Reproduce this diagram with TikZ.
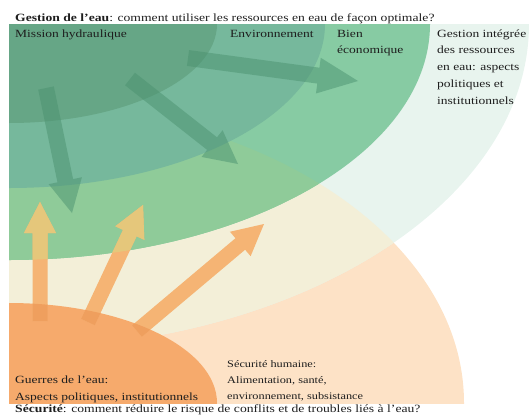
\documentclass[tikz,border=0pt]{standalone}
\usepackage{fontspec}
\setmainfont[FakeStretch=1.23]{Liberation Serif}
\usetikzlibrary{calc}

\definecolor{gA}{HTML}{66A686}
\definecolor{gB}{HTML}{76B89C}
\definecolor{gC}{HTML}{87CBA3}
\definecolor{gCp}{HTML}{8FCB99}
\definecolor{gD}{HTML}{E8F4EE}
\definecolor{cream}{HTML}{F3EFD8}
\definecolor{peach}{HTML}{FDE2C6}
\definecolor{orA}{HTML}{F6AA6C}
\definecolor{garrow}{HTML}{4B9270}
\definecolor{oarrow}{HTML}{F5B474}
\definecolor{oarrowG}{HTML}{E5C77B}
\definecolor{oarrowD}{HTML}{EF9F5E}
\definecolor{ink}{HTML}{1E1E1E}

% fat arrow: #1 fill options, #2 start, #3 end, #4 shaft half width, #5 head half width, #6 head length
\newcommand{\fatarrow}[6]{%
  \coordinate (hb) at ($(#3)!#6!(#2)$);
  \fill[#1] ($(#2)!#4!90:(#3)$) -- ($(hb)!#4!-90:(#2)$) -- ($(hb)!#5!-90:(#2)$)
    -- (#3) -- ($(hb)!#5!90:(#2)$) -- ($(hb)!#4!90:(#2)$) -- ($(#2)!#4!-90:(#3)$) -- cycle;
}
\newcommand{\orangearrows}[1]{%
  \fatarrow{#1}{oa1s}{oa1e}{7.5pt}{16pt}{31pt}
  \fatarrow{#1}{oa2s}{oa2e}{7.5pt}{16pt}{31pt}
  \fatarrow{#1}{oa3s}{oa3e}{7.5pt}{16pt}{31pt}
}

\tikzset{
  lbl/.style={anchor=base west, inner sep=0pt, text=ink, font=\fontsize{11}{16.8}\selectfont, align=left},
  ttl/.style={anchor=base west, inner sep=0pt, text=ink, font=\fontsize{11.1}{14}\selectfont},
  garr/.style={fill=garrow, opacity=0.5},
}

\begin{document}
\begin{tikzpicture}[x=1pt,y=-1pt]
\useasboundingbox (0,0) rectangle (529,418);

% arrow end points
\coordinate (ga1s) at (46,88);   \coordinate (ga1e) at (72,213);
\coordinate (ga2s) at (130,79);  \coordinate (ga2e) at (238,164);
\coordinate (ga3s) at (188,58);  \coordinate (ga3e) at (358,81);
\coordinate (oa1s) at (40,321);  \coordinate (oa1e) at (40,202);
\coordinate (oa2s) at (88,322);  \coordinate (oa2e) at (143,205);
\coordinate (oa3s) at (137,331); \coordinate (oa3e) at (264,224);

\begin{scope}
  \clip (9,24) rectangle (529,403);
  % peach (security, outer)
  \fill[peach] (9,403) ellipse [x radius=455pt, y radius=300pt];
  % pale green (outer water management)
  \fill[gD] (9,24) ellipse [x radius=520pt, y radius=325pt];
  \begin{scope}
    \clip (9,403) ellipse [x radius=455pt, y radius=300pt];
    \fill[cream] (9,24) ellipse [x radius=520pt, y radius=325pt];
  \end{scope}
  % light green
  \fill[gC] (9,24) ellipse [x radius=421pt, y radius=236pt];
  \begin{scope}
    \clip (9,403) ellipse [x radius=455pt, y radius=300pt];
    \fill[gCp] (9,24) ellipse [x radius=421pt, y radius=236pt];
  \end{scope}
  % medium green
  \fill[gB] (9,24) ellipse [x radius=316pt, y radius=164pt];
  % dark green
  \fill[gA] (9,24) ellipse [x radius=208pt, y radius=99pt];
  % dark orange
  \fill[orA] (9,403) ellipse [x radius=208pt, y radius=100pt];

  % green arrows
  \fatarrow{garr}{ga1s}{ga1e}{8pt}{17pt}{33pt}
  \fatarrow{garr}{ga2s}{ga2e}{8pt}{17pt}{33pt}
  \fatarrow{garr}{ga3s}{ga3e}{8pt}{18pt}{40pt}

  % orange arrows
  \orangearrows{oarrow}
  \begin{scope}
    \clip (9,24) ellipse [x radius=421pt, y radius=236pt];
    \orangearrows{oarrowG}
  \end{scope}
  \begin{scope}
    \clip (9,403) ellipse [x radius=208pt, y radius=100pt];
    \orangearrows{oarrowD}
  \end{scope}
\end{scope}

% texts (multi-line nodes are placed by the baseline of their last line)
\node[ttl] (ttop) at (15,21.5) {\textbf{Gestion de l’eau}: comment utiliser les ressources en eau de façon optimale?};
\node[lbl] (mission) at (15,37) {Mission hydraulique};
\node[lbl] (envir) at (230,37) {Environnement};
\node[lbl] (bien) at (337,53.8) {Bien\\économique};
\node[lbl] (gire) at (437,104.2) {Gestion intégrée\\des ressources\\en eau: aspects\\politiques et\\institutionnels};
\node[lbl, font=\fontsize{11}{16.3}\selectfont] (guerres) at (15,400) {Guerres de l’eau:\\Aspects politiques, institutionnels};
\node[lbl, font=\fontsize{10}{16.3}\selectfont] (humaine) at (227,399.6) {Sécurité humaine:\\Alimentation, santé,\\environnement, subsistance};
\node[ttl] (tbot) at (15,412) {\textbf{Sécurité}: comment réduire le risque de conflits et de troubles liés à l’eau?};
\end{tikzpicture}
\end{document}
